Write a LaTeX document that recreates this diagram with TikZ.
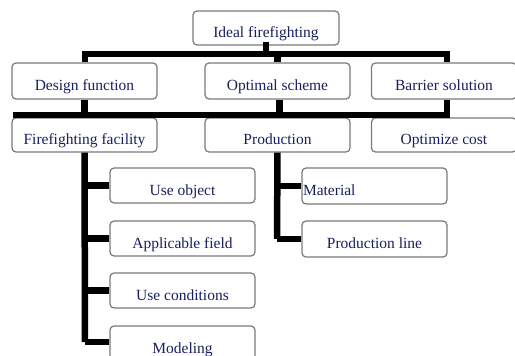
\documentclass[tikz,border=0pt]{standalone}
\usepackage{fontspec}
\setmainfont{Liberation Serif}
\definecolor{txtblue}{HTML}{1A1F5E}
\definecolor{boxgray}{HTML}{7A7A7A}
\begin{document}
\begin{tikzpicture}[x=1pt,y=-1pt,
  box/.style={draw=boxgray,line width=1.2pt,rounded corners=4pt,fill=white,
    minimum width=145pt,minimum height=36pt,inner sep=1pt,
    text height=19pt,text depth=0pt,
    font=\fontsize{15.5}{17}\selectfont,text=txtblue},
  bar/.style={line width=6.5pt,black,line cap=rect}]
\useasboundingbox (0,0) rectangle (515,356);
\clip (0,0) rectangle (515,356);
% nodes
\node[box,minimum width=146pt,minimum height=34pt] (ideal) at (266,28) {Ideal firefighting};
\node[box] (design) at (84.5,81) {Design function};
\node[box] (optimal) at (277.5,81) {Optimal scheme};
\node[box] (barrier) at (444,81) {Barrier solution};
\node[box,minimum height=34pt] (facility) at (84.5,135) {Firefighting facility};
\node[box,minimum height=34pt] (production) at (277.5,135) {Production};
\node[box,minimum height=34pt] (cost) at (444,135) {Optimize cost};
\node[box,minimum height=35pt] (useobj) at (182.5,185.5) {Use object};
\node[box,minimum height=35pt] (field) at (182.5,238.5) {Applicable field};
\node[box,minimum height=35pt] (cond) at (182.5,290.5) {Use conditions};
\node[box,minimum height=35pt] (model) at (182.5,343.5) {Modeling};
\node[box,minimum height=36pt,text width=143pt,align=left] (material) at (374.5,186) {Material};
\node[box,minimum height=36pt] (pline) at (374.5,239) {Production line};
% bars
\coordinate (b1L) at (85,54);
\coordinate (b1R) at (447,54);
\coordinate (b2L) at (16,115);
\coordinate (b2R) at (447,115);
\draw[bar] (ideal.south) -- (ideal.south |- b1L);
\draw[bar] (b1L) -- (b1R);
\draw[bar,line cap=butt] (b1L) -- (b1L |- design.north);
\draw[bar,line cap=butt] (optimal.north) -- (optimal.north |- b1L);
\draw[bar,line cap=butt] (b1R) -- (b1R |- barrier.north);
\draw[bar] (b2L) -- (b2R);
\draw[bar,line cap=butt] (design.south) -- (design.south |- b2L);
\draw[bar,line cap=butt] ([xshift=2pt]optimal.south) -- ([xshift=2pt]optimal.south |- b2L);
\draw[bar,line cap=butt] (barrier.south -| b2R) -- (b2R);
% facility branch
\coordinate (fbot) at (85,342);
\draw[bar,line cap=butt] (facility.south) -- (fbot);
\draw[bar,line cap=butt] (facility.south |- useobj.west) -- (useobj.west);
\draw[bar,line cap=butt] (facility.south |- field.west) -- (field.west);
\draw[bar,line cap=butt] (facility.south |- cond.west) -- (cond.west);
\draw[bar,line cap=butt] (fbot) -- (fbot -| model.west);
% production branch
\coordinate (pbot) at (277,239);
\draw[bar,line cap=butt] (production.south) -- (pbot);
\draw[bar,line cap=butt] (production.south |- material.west) -- (material.west);
\draw[bar,line cap=butt] (pbot) -- (pline.west);
\end{tikzpicture}
\end{document}
